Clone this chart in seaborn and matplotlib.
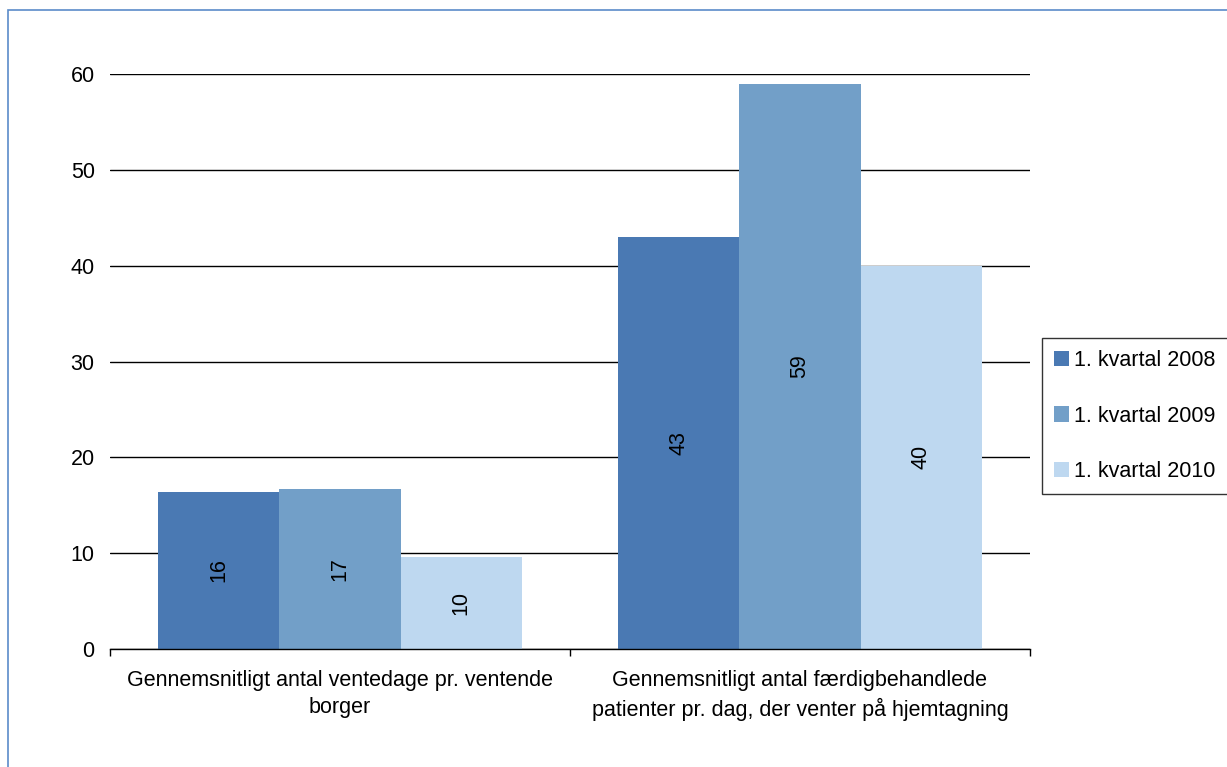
import matplotlib
matplotlib.use("Agg")
import matplotlib.pyplot as plt
import seaborn as sns
import pandas as pd
from matplotlib.patches import Rectangle

# data
categories = [
    "Gennemsnitligt antal ventedage pr. ventende\nborger",
    "Gennemsnitligt antal færdigbehandlede\npatienter pr. dag, der venter på hjemtagning",
]
series = ["1. kvartal 2008", "1. kvartal 2009", "1. kvartal 2010"]
values_2008 = [16.4, 43.0]
values_2009 = [16.7, 59.0]
values_2010 = [9.6, 40.0]
colors = ["#4A79B3", "#729FC8", "#BED8F0"]

rows = []
for s, vals in zip(series, [values_2008, values_2009, values_2010]):
    for c, v in zip(categories, vals):
        rows.append({"kategori": c, "serie": s, "værdi": v})
df = pd.DataFrame(rows)

sns.set_theme(style="white")
plt.rcParams["font.family"] = ["Liberation Sans", "DejaVu Sans"]
plt.rcParams["text.color"] = "black"
plt.rcParams["xtick.color"] = "black"
plt.rcParams["ytick.color"] = "black"

fig = plt.figure(figsize=(12.27, 7.67), dpi=100)
ax = fig.add_axes([110 / 1227, 1 - 649 / 767, 920 / 1227, 575 / 767])

sns.barplot(data=df, x="kategori", y="værdi", hue="serie", palette=colors,
            width=0.79, saturation=1, linewidth=0, ax=ax, legend=True)

for cont in ax.containers:
    ax.bar_label(cont, fmt="%.0f", label_type="center", rotation=90,
                 fontsize=15.5, color="black")

ax.set_ylim(0, 60)
ax.set_xlim(-0.5, 1.5)
ax.set_yticks(range(0, 61, 10))
ax.yaxis.grid(True, color="black", linewidth=1)
ax.set_axisbelow(True)
ax.set_xlabel("")
ax.set_ylabel("")
for side in ["left", "right", "top"]:
    ax.spines[side].set_visible(False)
ax.spines["bottom"].set_color("black")
ax.spines["bottom"].set_linewidth(1)

ax.set_xticks([0, 1])
ax.set_xticklabels(categories, fontsize=15.5, linespacing=1.4)
ax.set_xticks([-0.5, 0.5, 1.5], minor=True)
ax.tick_params(axis="x", which="major", length=0, pad=15)
ax.tick_params(axis="x", which="minor", length=5, width=1, color="black",
               direction="out", bottom=True)
ax.tick_params(axis="y", length=0, labelsize=15.5, pad=11)

handles, labels = ax.get_legend_handles_labels()
ax.legend(handles, labels, loc="center left", bbox_to_anchor=(1042 / 1227, 1 - 416 / 767),
          bbox_transform=fig.transFigure, fontsize=15.5, frameon=True,
          fancybox=False, edgecolor="black", handlelength=0.7, handleheight=0.7,
          handletextpad=0.25, labelspacing=1.6, borderpad=0.55, borderaxespad=0)
ax.get_legend().get_frame().set_linewidth(1)

# blue outer frame of the chart area
fig.patches.append(Rectangle((8 / 1227, -0.1), 1.2, 1 - 10 / 767 + 0.1,
                             transform=fig.transFigure, fill=False,
                             edgecolor="#5B8BC9", linewidth=1.2))

fig.savefig("out.png", dpi=100)
